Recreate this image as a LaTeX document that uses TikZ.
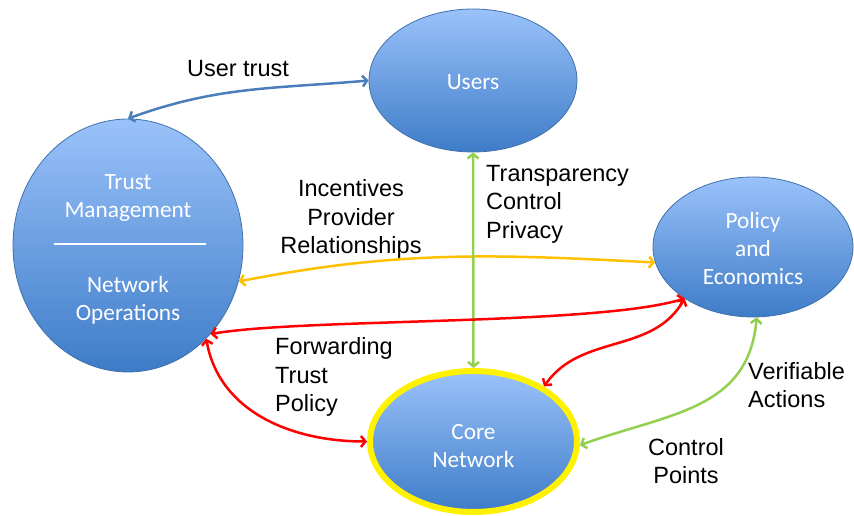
\documentclass[tikz,border=0pt]{standalone}
\usepackage{fontspec}
\setmainfont{Liberation Sans}
\newfontfamily\calibri{Carlito}
\usetikzlibrary{shapes.geometric,arrows.meta}
\definecolor{blobtop}{RGB}{154,194,250}
\definecolor{blobbot}{RGB}{62,124,200}
\definecolor{blobline}{RGB}{65,113,170}
\definecolor{linkblue}{RGB}{74,126,187}
\definecolor{linkorange}{RGB}{255,192,0}
\definecolor{linkgreen}{RGB}{146,208,80}
\definecolor{linkred}{RGB}{255,0,0}

\begin{document}
\begin{tikzpicture}[x=1pt,y=1pt,
    blob/.style={ellipse,draw=blobline,line width=0.8pt,top color=blobtop,bottom color=blobbot,inner sep=0pt},
    inblob/.style={text=white,font=\calibri\fontsize{23.3}{28}\selectfont,align=center,inner sep=0pt},
    lbl/.style={font=\fontsize{23.5}{28.5}\selectfont,inner sep=0pt},
    link/.style={line width=2.5pt,{Straight Barb[length=4.5pt,width=11pt]}-{Straight Barb[length=4.5pt,width=11pt]}}]
    \useasboundingbox (0,0) rectangle (854,516);

    \node[blob,minimum width=208pt,minimum height=143pt] (users) at (473,435.5) {};
    \node[inblob] (userstext) at (473,433.5) {Users};
    \node[blob,minimum width=230pt,minimum height=253pt] (trust) at (128,270.5) {};
    \node[inblob] (trustmgmt) at (128,318) {Trust\\Management};
    \node[inblob] (netops) at (128,216) {Network\\Operations};
    \draw[white,line width=2pt] (54,272) -- (206,272);
    \node[blob,minimum width=200pt,minimum height=140pt] (policy) at (753,269) {};
    \node[inblob] (policytext) at (753,267) {Policy\\and\\Economics};
    \node[blob,draw=yellow,line width=6pt,minimum width=207pt,minimum height=141pt] (core) at (473.5,74.5) {};
    \node[inblob] (coretext) at (473.5,69.5) {Core\\Network};

    \draw[link,draw=linkblue] (users.west) to[out=185,in=20] (trust.north);
    \draw[link,draw=linkorange] (trust.-18) to[out=11,in=177] (policy.189);
    \draw[link,draw=linkgreen] (users.south) -- (core.north);
    \draw[link,draw=linkred] (trust.-47) to[out=10,in=197,looseness=0.5] (policy.217);
    \draw[link,draw=linkred] (trust.-50) to[out=-80,in=180] (core.west);
    \draw[link,draw=linkred] (core.38) to[out=55,in=-120] (policy.217);
    \draw[link,draw=linkgreen] (policy.-87) to[out=-95,in=20,looseness=1.1] (core.-2);

    \node[lbl] (usertrust) at (238,447) {User trust};
    \node[lbl,align=center] (incentives) at (351,297) {Incentives\\Provider\\Relationships};
    \node[lbl,align=left,anchor=west] (transparency) at (486,312) {Transparency\\Control\\Privacy};
    \node[lbl,align=left,anchor=west] (forwarding) at (275,139) {Forwarding\\Trust\\Policy};
    \node[lbl,align=left,anchor=west] (verifiable) at (748,131) {Verifiable\\Actions};
    \node[lbl,align=center] (controlpts) at (686,55) {Control\\Points};
\end{tikzpicture}
\end{document}
